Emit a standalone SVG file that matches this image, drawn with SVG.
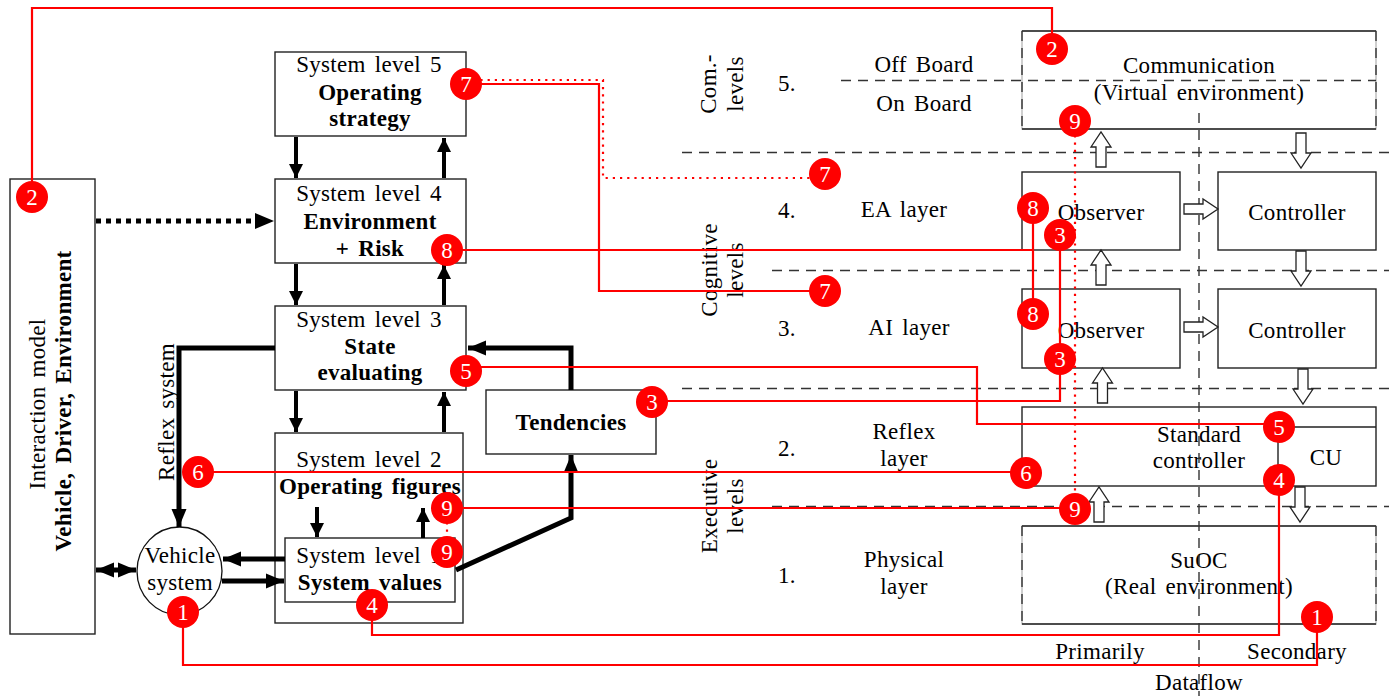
<svg xmlns="http://www.w3.org/2000/svg" width="1389" height="696" viewBox="0 0 1389 696">
<style>
text{font-family:"Liberation Serif","Times New Roman",serif;font-size:23px;fill:#000;text-anchor:middle;word-spacing:3px;letter-spacing:.3px}
.b{font-weight:bold}
.box{fill:#fff;stroke:#222;stroke-width:1.4}
.red{fill:none;stroke:#f00;stroke-width:2.2}
.dot{fill:none;stroke:#f00;stroke-width:2.2;stroke-dasharray:2.2 5}
.blk{fill:none;stroke:#000;stroke-width:4}
.thk{fill:none;stroke:#000;stroke-width:5}
.dash{fill:none;stroke:#333;stroke-width:1.4;stroke-dasharray:10 7}
.ho{fill:#fff;stroke:#222;stroke-width:1.3}
.m circle{fill:#f00}
.m text{fill:#fff;font-size:23px;letter-spacing:0}
</style>
<defs>
<marker id="a" markerUnits="userSpaceOnUse" markerWidth="16" markerHeight="16" refX="14" refY="8" orient="auto"><path d="M0 1L14 8L0 15Z"/></marker>
<marker id="as" markerUnits="userSpaceOnUse" markerWidth="20" markerHeight="20" refX="18" refY="10" orient="auto-start-reverse"><path d="M0 2.500L18 10L0 17.500Z"/></marker>
<path id="hu" class="ho" d="M-5 35V15H-10L0 0L10 15H5V35Z"/>
<path id="hd" class="ho" d="M-5 0V20H-10L0 35L10 20H5V0Z"/>
<path id="hr" class="ho" d="M0 -5H19V-10L34 0L19 10V5H0Z"/>
</defs>
<g id="n-interaction"><rect class="box" x="10" y="179" width="85" height="455"/>
<text transform="translate(45 404) rotate(-90)">Interaction model</text>
<text class="b" transform="translate(71 401) rotate(-90)">Vehicle, Driver, Environment</text></g>
<g id="n-sl5"><rect class="box" x="275" y="52" width="191" height="84"/><text x="369" y="72">System level 5</text><text class="b" x="370" y="100">Operating</text><text class="b" x="370" y="126">strategy</text></g>
<g id="n-sl4"><rect class="box" x="275" y="179" width="191" height="84"/><text x="369" y="201">System level 4</text><text class="b" x="370" y="229">Environment</text><text class="b" x="370" y="256">+ Risk</text></g>
<g id="n-sl3"><rect class="box" x="275" y="306" width="191" height="84"/><text x="369" y="327">System level 3</text><text class="b" x="370" y="354">State</text><text class="b" x="370" y="380">evaluating</text></g>
<g id="n-sl2"><rect class="box" x="275" y="433" width="188" height="190"/><text x="369" y="467">System level 2</text><text class="b" x="370" y="494">Operating figures</text></g>
<g id="n-sl1"><rect class="box" x="285" y="538" width="170" height="64"/><text x="369" y="563">System level 1</text><text class="b" x="370" y="590">System values</text></g>
<g id="n-tend"><rect class="box" x="486" y="390" width="170" height="64"/><text class="b" x="571" y="430">Tendencies</text></g>
<g id="n-vehicle"><ellipse cx="179.500" cy="571" rx="42.500" ry="44" fill="#fff" stroke="#111" stroke-width="1.300"/><text x="180" y="563">Vehicle</text><text x="180" y="590">system</text></g>
<g id="n-comm"><rect x="1022" y="31" width="354" height="98" fill="#fff" stroke="#bbb" stroke-width="1.400"/><path d="M1022 31H1376M1022 129H1376" stroke="#222" stroke-width="1.400" fill="none"/><path class="dash" d="M1022 31V129M1376 31V129"/><text x="1199" y="73">Communication</text><text x="1199" y="100">(Virtual environment)</text></g>
<g id="n-obs4"><rect class="box" x="1022" y="172" width="158" height="78"/><text x="1101" y="220">Observer</text></g>
<g id="n-ctl4"><rect class="box" x="1218" y="172" width="158" height="78"/><text x="1297" y="220">Controller</text></g>
<g id="n-obs3"><rect class="box" x="1022" y="289" width="158" height="79"/><text x="1101" y="338">Observer</text></g>
<g id="n-ctl3"><rect class="box" x="1218" y="289" width="158" height="79"/><text x="1297" y="338">Controller</text></g>
<g id="n-std"><rect class="box" x="1022" y="407" width="354" height="79"/><path d="M1278 486V427H1376" fill="none" stroke="#222" stroke-width="1.400"/><text x="1199" y="442">Standard</text><text x="1199" y="468">controller</text><text x="1326" y="465">CU</text></g>
<g id="n-suoc"><rect x="1022" y="526" width="354" height="98" fill="#fff" stroke="#bbb" stroke-width="1.400"/><path d="M1022 526H1376M1022 624H1376" stroke="#222" stroke-width="1.400" fill="none"/><path class="dash" d="M1022 526V624M1376 526V624"/><text x="1199" y="568">SuOC</text><text x="1199" y="594">(Real environment)</text></g>
<g id="lanes">
<path class="dash" d="M682 152.500H1389M772 270.500H1389M682 388.500H1389M772 506.500H1389M841 80.500H1376M1199 113V696"/>
</g>
<g id="labels">
<text transform="translate(716 84) rotate(-90)">Com.-</text><text transform="translate(743 84) rotate(-90)">levels</text>
<text transform="translate(717 270) rotate(-90)">Cognitive</text><text transform="translate(743 270) rotate(-90)">levels</text>
<text transform="translate(717 506) rotate(-90)">Executive</text><text transform="translate(743 506) rotate(-90)">levels</text>
<text transform="translate(174 412) rotate(-90)">Reflex system</text>
<text x="787" y="91">5.</text><text x="787" y="218">4.</text><text x="787" y="336">3.</text><text x="787" y="456">2.</text><text x="787" y="583">1.</text>
<text x="924" y="72">Off Board</text><text x="924" y="111">On Board</text><text x="904" y="217">EA layer</text><text x="909" y="335">AI layer</text>
<text x="904" y="439">Reflex</text><text x="904" y="466">layer</text><text x="904" y="567">Physical</text><text x="904" y="594">layer</text>
<text x="1100" y="659">Primarily</text><text x="1297" y="659">Secondary</text><text x="1199" y="690">Dataflow</text>
</g>
<g id="connectors">
<path class="blk" marker-end="url(#a)" d="M296 137V178"/><path class="blk" marker-end="url(#a)" d="M444 178V138"/>
<path class="blk" marker-end="url(#a)" d="M296 264V305"/><path class="blk" marker-end="url(#a)" d="M444 305V265"/>
<path class="blk" marker-end="url(#a)" d="M296 391V432"/><path class="blk" marker-end="url(#a)" d="M444 432V392"/>
<path class="blk" marker-end="url(#a)" d="M317 507V537"/><path class="blk" marker-end="url(#a)" d="M423 538V508"/>
<path class="thk" marker-end="url(#as)" d="M275 348H179V527"/>
<path class="thk" marker-end="url(#as)" d="M571 390V348H468"/>
<path class="thk" marker-end="url(#as)" d="M456 570L571 518V455"/>
<path class="thk" marker-end="url(#as)" d="M285 559H223"/>
<path class="thk" marker-end="url(#as)" d="M222 581H284"/>
<path class="thk" marker-start="url(#as)" marker-end="url(#as)" d="M96 570H136"/>
<path fill="none" stroke="#000" stroke-width="5" stroke-dasharray="5 5" d="M96 221H258"/><path d="M255 213L274 221L255 229Z"/>
<use href="#hu" x="1101" y="132"/><use href="#hd" x="1301" y="133"/><use href="#hr" x="1184" y="209"/>
<use href="#hu" x="1101" y="250"/><use href="#hd" x="1301" y="251"/><use href="#hr" x="1184" y="327"/>
<use href="#hu" x="1102.500" y="368"/><use href="#hd" x="1303" y="369"/>
<use href="#hu" x="1099" y="487"/><use href="#hd" x="1300" y="487"/>
<path class="red" d="M32 197V8H1052V49"/>
<path class="red" d="M466 84H599V291H825"/>
<path class="dot" d="M466 80H603V178H825"/>
<path class="red" d="M447 250H1033M1033 208V314"/>
<path class="red" d="M652 401H1060V235"/>
<path class="red" d="M466 367H977V424H1279"/>
<path class="red" d="M198 472H1026"/>
<path class="red" d="M447 508H1075"/>
<path class="dot" d="M1075 121V509M447 508V552"/>
<path class="red" d="M372 605V635H1279V480"/>
<path class="red" d="M183 612V665H1317V617"/>
</g>
<g id="markers" class="m">
<circle cx="32" cy="197" r="16"/><text x="32" y="205">2</text>
<circle cx="1052" cy="49" r="16"/><text x="1052" y="57">2</text>
<circle cx="466" cy="84" r="16"/><text x="466" y="92">7</text>
<circle cx="825" cy="174" r="16"/><text x="825" y="182">7</text>
<circle cx="825" cy="291" r="16"/><text x="825" y="299">7</text>
<circle cx="447" cy="250" r="16"/><text x="447" y="258">8</text>
<circle cx="1033" cy="208" r="16"/><text x="1033" y="216">8</text>
<circle cx="1033" cy="314" r="16"/><text x="1033" y="322">8</text>
<circle cx="1060" cy="235" r="16"/><text x="1060" y="243">3</text>
<circle cx="1060" cy="359" r="16"/><text x="1060" y="367">3</text>
<circle cx="652" cy="402" r="16"/><text x="652" y="410">3</text>
<circle cx="466" cy="371" r="16"/><text x="466" y="379">5</text>
<circle cx="1279" cy="427" r="16"/><text x="1279" y="435">5</text>
<circle cx="198" cy="472" r="16"/><text x="198" y="480">6</text>
<circle cx="1026" cy="473" r="16"/><text x="1026" y="481">6</text>
<circle cx="447" cy="508" r="16"/><text x="447" y="516">9</text>
<circle cx="447" cy="552" r="16"/><text x="447" y="560">9</text>
<circle cx="1075" cy="121" r="16"/><text x="1075" y="129">9</text>
<circle cx="1075" cy="509" r="16"/><text x="1075" y="517">9</text>
<circle cx="372" cy="605" r="16"/><text x="372" y="613">4</text>
<circle cx="1279" cy="480" r="16"/><text x="1279" y="488">4</text>
<circle cx="183" cy="612" r="16"/><text x="183" y="620">1</text>
<circle cx="1317" cy="617" r="16"/><text x="1317" y="625">1</text>
</g>
</svg>
